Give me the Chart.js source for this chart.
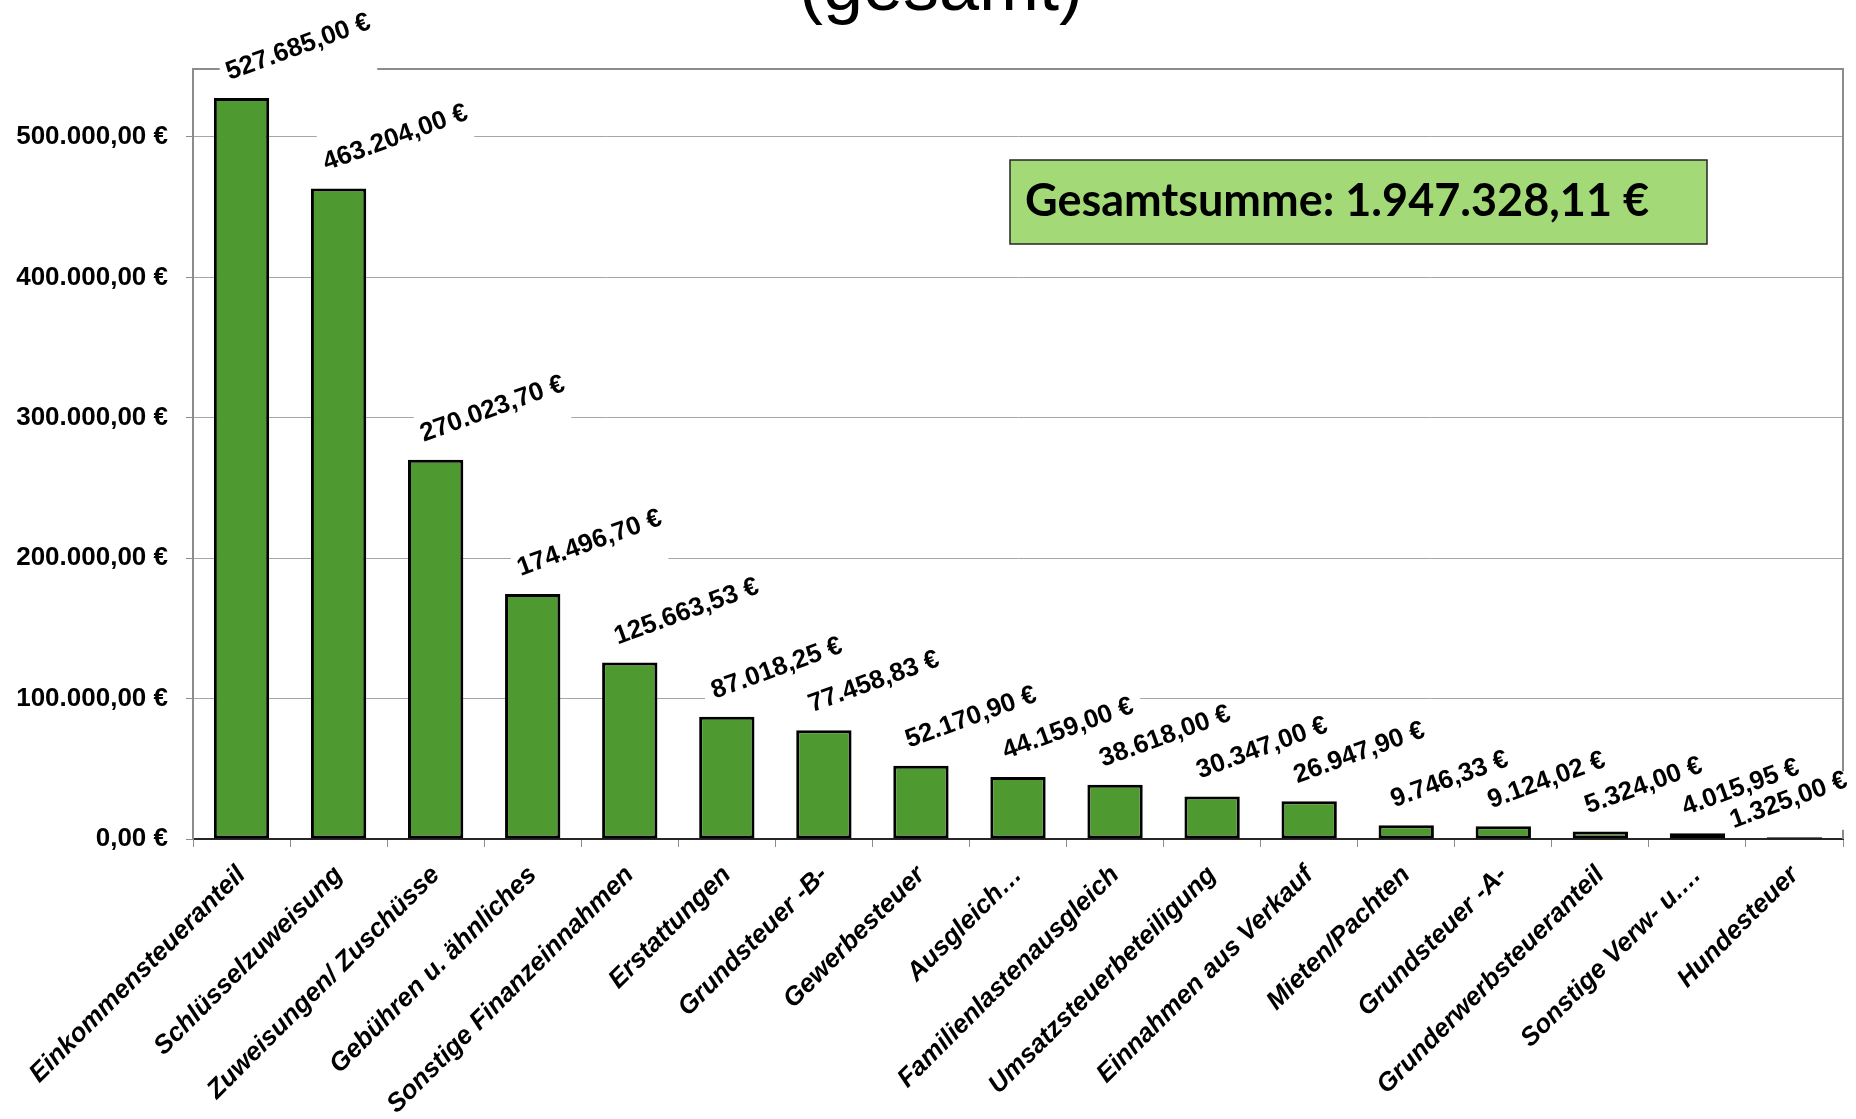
<!DOCTYPE html>
<html lang="de">
<head>
<meta charset="utf-8">
<title>Einnahmen (gesamt)</title>
<script src="https://cdn.jsdelivr.net/npm/chart.js@4.4.1/dist/chart.umd.min.js"></script>
<style>
  html, body { margin: 0; padding: 0; background: #fff; }
  #chart-div { position: relative; width: 1856px; height: 1119px; }
</style>
</head>
<body>
<div id="chart-div"><canvas id="chart"></canvas></div>
<script>
const categories = [
    'Einkommensteueranteil', 'Schlüsselzuweisung', 'Zuweisungen/ Zuschüsse',
    'Gebühren u. ähnliches', 'Sonstige Finanzeinnahmen', 'Erstattungen',
    'Grundsteuer -B-', 'Gewerbesteuer', 'Ausgleich…', 'Familienlastenausgleich',
    'Umsatzsteuerbeteiligung', 'Einnahmen aus Verkauf', 'Mieten/Pachten',
    'Grundsteuer -A-', 'Grunderwerbsteueranteil', 'Sonstige Verw- u.…', 'Hundesteuer'
]
const values = [
    527685.00, 463204.00, 270023.70, 174496.70, 125663.53, 87018.25,
    77458.83, 52170.90, 44159.00, 38618.00, 30347.00, 26947.90,
    9746.33, 9124.02, 5324.00, 4015.95, 1325.00
]
const yTicks = [0, 100000, 200000, 300000, 400000, 500000]
const yMax = 548400
const total = 1947328.11
const titleText = '(gesamt)'
const totalText = 'Gesamtsumme: '

const arial = '"Liberation Sans", Arial, sans-serif'

const formatEuro = value => {
    const [int, dec] = value.toFixed(2).split('.')
    return int.replace(/\B(?=(\d{3})+(?!\d))/g, '.') + ',' + dec + ' €'
}

// gray frame on top and right of the plot area
const framePlugin = {
    id: 'frame',
    beforeDatasetsDraw(chart) {
        const { ctx, chartArea: a } = chart
        ctx.save()
        ctx.strokeStyle = '#8c8c8c'
        ctx.lineWidth = 2
        ctx.beginPath()
        ctx.moveTo(a.left, a.top)
        ctx.lineTo(a.right, a.top)
        ctx.lineTo(a.right, a.bottom)
        ctx.stroke()
        ctx.restore()
    }
}

// rotated value labels above the bars, on a white patch
const valueLabelPlugin = {
    id: 'valueLabels',
    afterDatasetsDraw(chart) {
        const ctx = chart.ctx
        const angle = -20 * Math.PI / 180
        const cos = Math.cos(angle), sin = Math.sin(angle)
        const asc = 20, desc = 6
        ctx.save()
        ctx.font = 'bold 26px ' + arial
        const items = chart.getDatasetMeta(0).data.map((bar, i) => {
            const text = formatEuro(values[i])
            const w = ctx.measureText(text).width
            let x = bar.x - 12
            let y = bar.y - 18
            const pts = [[0, -asc], [w, -asc], [0, desc], [w, desc]].map(([px, py]) => [px * cos - py * sin, px * sin + py * cos])
            const xs = pts.map(p => p[0]), ys = pts.map(p => p[1])
            const overflow = x + Math.max(...xs) - (chart.width - 5)
            if (overflow > 0) {
                x -= overflow
                y += 9
            }
            return { text, x, y, box: [x + Math.min(...xs), y + Math.min(...ys), Math.max(...xs) - Math.min(...xs), Math.max(...ys) - Math.min(...ys)] }
        })
        ctx.fillStyle = '#fff'
        for (const it of items) {
            const [bx, by, bw, bh] = it.box
            ctx.fillRect(bx - 3, by + 4, bw + 6, bh - 8)
        }
        ctx.fillStyle = '#000'
        ctx.textBaseline = 'alphabetic'
        ctx.textAlign = 'left'
        for (const it of items) {
            ctx.save()
            ctx.translate(it.x, it.y)
            ctx.rotate(angle)
            ctx.fillText(it.text, 0, 0)
            ctx.restore()
        }
        ctx.restore()
    }
}

// cut-off title and the total box
const extrasPlugin = {
    id: 'extras',
    afterDraw(chart) {
        const ctx = chart.ctx
        ctx.save()
        ctx.fillStyle = '#000'
        ctx.font = '72px ' + arial
        ctx.textAlign = 'center'
        ctx.textBaseline = 'alphabetic'
        ctx.fillText(titleText, 941, 10)

        ctx.fillStyle = '#a3d977'
        ctx.fillRect(1010, 160, 697, 84)
        ctx.strokeStyle = '#262626'
        ctx.lineWidth = 1.5
        ctx.strokeRect(1010, 160, 697, 84)
        ctx.fillStyle = '#000'
        ctx.font = 'bold 45px Lato, "Open Sans", sans-serif'
        ctx.textAlign = 'left'
        ctx.fillText(totalText + formatEuro(total), 1025, 216)
        ctx.restore()
    }
}

new Chart(document.getElementById('chart').getContext('2d'), {
    type: 'bar',
    data: {
        labels: categories,
        datasets: [{
            label: 'Einnahmen',
            data: values,
            backgroundColor: '#4e9a31',
            borderColor: '#000',
            borderWidth: 3,
            borderSkipped: false,
            barPercentage: 0.57,
            categoryPercentage: 1
        }]
    },
    options: {
        responsive: true,
        maintainAspectRatio: false,
        animation: false,
        devicePixelRatio: 1,
        layout: { padding: { top: 69, right: 13, left: 0, bottom: 0 } },
        plugins: {
            legend: { display: false },
            tooltip: { enabled: false }
        },
        scales: {
            x: {
                offset: true,
                grid: { display: true, offset: true, drawOnChartArea: false, drawTicks: true, tickLength: 8, tickColor: '#8c8c8c' },
                border: { display: true, color: '#262626', width: 2 },
                ticks: {
                    autoSkip: false, maxRotation: 45, minRotation: 45, padding: 13, color: '#000',
                    font: { family: arial, size: 26, weight: 'bold', style: 'italic' }
                },
                afterFit: scale => { scale.height = 280 }
            },
            y: {
                min: 0,
                max: yMax,
                afterBuildTicks: scale => { scale.ticks = yTicks.map(v => ({ value: v })) },
                grid: { color: '#a6a6a6', lineWidth: 1, tickLength: 7, tickColor: '#8c8c8c' },
                border: { color: '#8c8c8c', width: 2 },
                ticks: {
                    padding: 18, color: '#000',
                    font: { family: arial, size: 26, weight: 'bold' },
                    callback: v => formatEuro(v)
                },
                afterFit: scale => { scale.width = 193 }
            }
        }
    },
    plugins: [framePlugin, valueLabelPlugin, extrasPlugin]
})
</script>
</body>
</html>
